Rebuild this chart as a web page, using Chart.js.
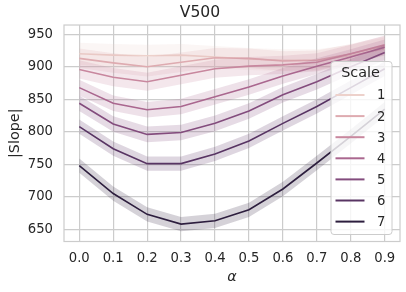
<!DOCTYPE html>
<html>
<head>
<meta charset="utf-8">
<script src="https://cdn.jsdelivr.net/npm/chart.js@4.4.0/dist/chart.umd.min.js"></script>
<style>
  html, body { margin: 0; padding: 0; background: #fff; }
  #wrap { width: 406px; height: 292px; }
</style>
</head>
<body>
<div id="wrap"><canvas id="chart" width="406" height="292"></canvas></div>
<script>
// values
const alphas = [0.0, 0.1, 0.2, 0.3, 0.4, 0.5, 0.6, 0.7, 0.8, 0.9];
const scaleNames = ['1', '2', '3', '4', '5', '6', '7'];

const scale1 = [920, 918, 917, 918, 915, 912, 910, 910, 917, 928];
const scale2 = [913, 906, 900, 907, 914, 913, 909, 910, 920, 932];
const scale3 = [896, 884, 877, 887, 897, 901, 903, 907, 920, 934];
const scale4 = [868, 844, 834, 839, 854, 869, 886, 901, 915, 930];
const scale5 = [844, 812, 796, 799, 813, 832, 857, 877, 900, 922];
const scale6 = [808, 774, 751, 751, 766, 786, 813, 839, 868, 897];
const scale7 = [748, 705, 673, 658, 663, 680, 712, 752, 793, 835];

// half width of the shaded confidence band for each scale
const bandHalf = [17, 15, 14, 12, 12, 11, 11];

const xTicks = [0.0, 0.1, 0.2, 0.3, 0.4, 0.5, 0.6, 0.7, 0.8, 0.9];
const yTicks = [650, 700, 750, 800, 850, 900, 950];

const palette = ['#edd1cb', '#deabb0', '#c8879e', '#aa678f', '#834c7d', '#583463', '#2d1e3e'];
const textColor = '#262626';
const gridColor = '#cccccc';
const fontFamily = '"DejaVu Sans", sans-serif';

const allSeries = [scale1, scale2, scale3, scale4, scale5, scale6, scale7];

function hexToRgba(hex, a) {
    const n = parseInt(hex.slice(1), 16);
    return `rgba(${(n >> 16) & 255}, ${(n >> 8) & 255}, ${n & 255}, ${a})`;
}

const datasets = [];
allSeries.forEach((vals, i) => {
    const base = (allSeries.length - i) * 10;
    datasets.push({
        label: 'upper' + scaleNames[i],
        data: alphas.map((a, j) => ({ x: a, y: vals[j] + bandHalf[i] })),
        borderColor: 'transparent',
        borderWidth: 0,
        pointRadius: 0,
        fill: false,
        order: base + 3,
        isBand: true
    });
    datasets.push({
        label: 'lower' + scaleNames[i],
        data: alphas.map((a, j) => ({ x: a, y: vals[j] - bandHalf[i] })),
        borderColor: 'transparent',
        borderWidth: 0,
        pointRadius: 0,
        fill: '-1',
        backgroundColor: hexToRgba(palette[i], 0.2),
        order: base + 2,
        isBand: true
    });
    datasets.push({
        label: scaleNames[i],
        data: alphas.map((a, j) => ({ x: a, y: vals[j] })),
        borderColor: palette[i],
        borderWidth: 1.6,
        pointRadius: 0,
        fill: false,
        tension: 0,
        order: base + 1
    });
});

// frame around the plot area (matplotlib spines)
const framePlugin = {
    id: 'frame',
    afterDatasetsDraw(chart) {
        const { ctx, chartArea: a } = chart;
        ctx.save();
        ctx.strokeStyle = gridColor;
        ctx.lineWidth = 1.2;
        ctx.strokeRect(a.left, a.top, a.right - a.left, a.bottom - a.top);
        ctx.restore();
    }
};

// legend box inside the plot, like seaborn's
const insideLegend = {
    id: 'insideLegend',
    afterDraw(chart) {
        const { ctx, chartArea: a } = chart;
        const lines = chart.data.datasets.filter(d => !d.isBand);
        const boxW = 61, boxH = 173;
        const x0 = a.right - 8 - boxW;
        const y0 = a.bottom - 7 - boxH;
        ctx.save();
        ctx.beginPath();
        ctx.roundRect(x0, y0, boxW, boxH, 3);
        ctx.fillStyle = 'rgba(255, 255, 255, 0.8)';
        ctx.fill();
        ctx.strokeStyle = gridColor;
        ctx.lineWidth = 1;
        ctx.stroke();

        ctx.fillStyle = textColor;
        ctx.font = `14.4px ${fontFamily}`;
        ctx.textAlign = 'center';
        ctx.textBaseline = 'middle';
        ctx.fillText('Scale', x0 + boxW / 2 - 1, y0 + 11.5);

        ctx.font = `13.2px ${fontFamily}`;
        ctx.textAlign = 'left';
        lines.forEach((d, k) => {
            const y = y0 + 33.5 + k * 21.1;
            ctx.strokeStyle = d.borderColor;
            ctx.lineWidth = 2;
            ctx.beginPath();
            ctx.moveTo(x0 + 4.5, y);
            ctx.lineTo(x0 + 33.5, y);
            ctx.stroke();
            ctx.fillStyle = textColor;
            ctx.fillText(d.label, x0 + 46, y + 1);
        });
        ctx.restore();
    }
};

new Chart(document.getElementById('chart'), {
    type: 'line',
    data: { datasets },
    options: {
        responsive: false,
        animation: false,
        devicePixelRatio: 1,
        layout: { padding: { left: 0, right: 6, top: 0, bottom: 0 } },
        plugins: {
            legend: { display: false },
            tooltip: { enabled: false },
            title: {
                display: true,
                text: 'V500',
                color: textColor,
                font: { family: fontFamily, size: 15.6, weight: 'normal' },
                padding: { top: 3.5, bottom: 2.8 }
            }
        },
        scales: {
            x: {
                type: 'linear',
                min: -0.045,
                max: 0.945,
                afterBuildTicks: s => { s.ticks = xTicks.map(v => ({ value: v })); },
                afterFit: s => { s.height = 50.5; },
                grid: { color: gridColor, lineWidth: 1.2, drawTicks: false },
                border: { display: false },
                ticks: {
                    color: textColor,
                    padding: 9.6,
                    maxRotation: 0,
                    font: { family: fontFamily, size: 13.2 },
                    callback: v => Number(v).toFixed(1)
                },
                title: {
                    display: true,
                    text: 'α',
                    color: textColor,
                    font: { family: fontFamily, size: 14.4, style: 'italic' },
                    padding: { top: 0, bottom: 6.4 }
                }
            },
            y: {
                min: 631.2,
                max: 964.3,
                afterBuildTicks: s => { s.ticks = yTicks.map(v => ({ value: v })); },
                afterFit: s => { s.width = 64; },
                grid: { color: gridColor, lineWidth: 1.2, drawTicks: false },
                border: { display: false },
                ticks: {
                    color: textColor,
                    padding: 11,
                    font: { family: fontFamily, size: 13.2 }
                },
                title: {
                    display: true,
                    text: '|Slope|',
                    color: textColor,
                    font: { family: fontFamily, size: 14.4 },
                    padding: { top: 6.4, bottom: 0 }
                }
            }
        }
    },
    plugins: [framePlugin, insideLegend]
});
</script>
</body>
</html>
